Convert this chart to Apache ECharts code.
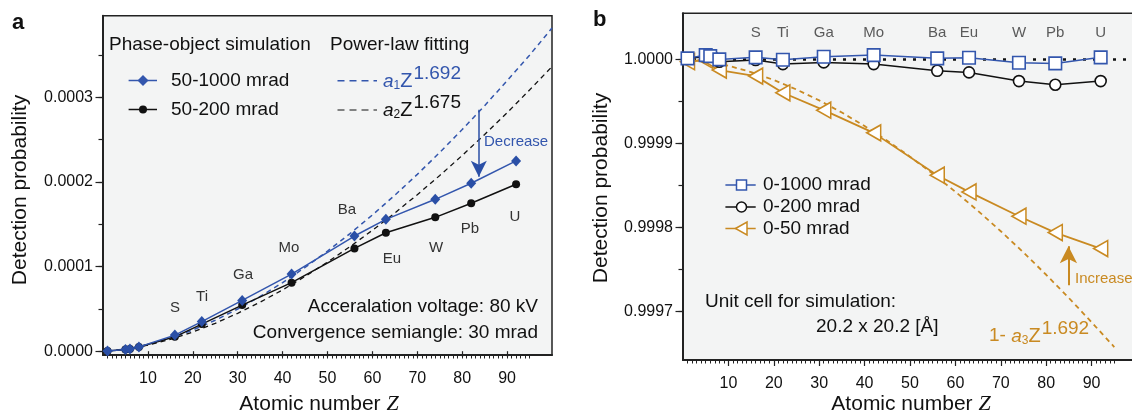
<!DOCTYPE html>
<html><head><meta charset="utf-8">
<script src="https://cdn.jsdelivr.net/npm/echarts@6/dist/echarts.min.js"></script>
<style>html,body{margin:0;padding:0;background:#fff}#c{width:1132px;height:414px}</style>
</head><body><div id="c"></div>
<script>
// ---------- data ----------
const zSim = [1, 5, 6, 8, 16, 22, 31, 42, 56, 63, 74, 82, 92];
// panel a: phase-object simulation
const p50to1000 = [0.0000001, 0.0000020, 0.0000027, 0.0000050, 0.0000190, 0.0000350, 0.0000600, 0.0000911, 0.0001361, 0.0001558, 0.0001795, 0.0001985, 0.0002249];
const p50to200  = [0.0000001, 0.0000020, 0.0000027, 0.0000050, 0.0000170, 0.0000320, 0.0000545, 0.0000810, 0.0001215, 0.0001400, 0.0001582, 0.0001748, 0.0001973];
// panel a: power-law fitting curves
const zFit = [1, 5, 10, 15, 20, 25, 30, 35, 40, 45, 50, 55, 60, 65, 70, 75, 80, 85, 90, 95, 100];
const fitA1 = [0.00000016, 0.0000024, 0.00000776, 0.00001542, 0.00002509, 0.00003659, 0.00004985, 0.00006467, 0.00008108, 0.00009896, 0.00011827, 0.00013894, 0.000161, 0.00018436, 0.00020899, 0.00023487, 0.00026195, 0.0002902, 0.0003197, 0.0003498, 0.0003819];
const fitA2 = [0.00000015, 0.00000223, 0.00000711, 0.00001401, 0.0000227, 0.00003298, 0.00004479, 0.00005795, 0.00007247, 0.0000883, 0.00010537, 0.00012351, 0.00014288, 0.00016339, 0.00018499, 0.00020765, 0.00023135, 0.0002561, 0.0002818, 0.0003087, 0.0003363];
// panel b
const p0to1000 = [1.0000012, 1.0000051, 1.0000039, 1.0000000, 1.0000024, 0.9999995, 1.0000031, 1.0000051, 1.0000012, 1.0000020, 0.9999960, 0.9999952, 1.0000024];
const p0to200  = [1.0000012, 1.0000031, 1.0000051, 0.9999972, 0.9999992, 0.9999944, 0.9999964, 0.9999944, 0.9999864, 0.9999845, 0.9999742, 0.9999698, 0.9999742];
const p0to50   = [0.9999972, 0.9999990, 0.9999980, 0.9999873, 0.9999801, 0.9999603, 0.9999396, 0.9999126, 0.9998623, 0.9998424, 0.9998135, 0.9997940, 0.9997750];
const zFit3 = [1, 5, 10, 15, 20, 25, 30, 35, 40, 45, 50, 55, 60, 65, 70, 75, 80, 85, 90, 95];
const fitA3 = [0.99999985, 0.99999765, 0.99999241, 0.99998493, 0.99997547, 0.99996422, 0.99995126, 0.99993677, 0.99992072, 0.99990324, 0.99988435, 0.99986414, 0.99984257, 0.99981973, 0.99979564, 0.99977034, 0.99974386, 0.99971624, 0.9996874, 0.9996579];
const refZ = [0, 100];
const refP = [1.0, 1.0];
// element labels
const elemNames = ['S', 'Ti', 'Ga', 'Mo', 'Ba', 'Eu', 'W', 'Pb', 'U'];
const elemZ = [16, 22, 31, 42, 56, 63, 74, 82, 92];
// tick labels
const xLabelVals = [10, 20, 30, 40, 50, 60, 70, 80, 90];
const yLabelsA = [0, 0.0001, 0.0002, 0.0003];
const yLabelsB = [0.9997, 0.9998, 0.9999, 1.0];
// arrows (annotation endpoints in data units)
const decreaseArrow = { z: 83.7, from: 0.0002852, to: 0.0002063 };
const increaseArrow = { z: 84.9, from: 0.9997313, to: 0.9997777 };

// ---------- styling ----------
const FONT = '"Liberation Sans", Arial, sans-serif';
const BLUE = '#3356ad', BLACK = '#111111', ORANGE = '#c98a22', AXIS = '#222222', BG = '#f3f4f4';
const pair = (xs, ys) => xs.map((x, i) => [x, ys[i]]);
const xMinor = []; for (let z = 1; z <= 95; z++) xMinor.push(z);
const yMinorA = [0, 0.00005, 0.0001, 0.00015, 0.0002, 0.00025, 0.0003, 0.00035];
const yMinorB = [0.9997, 0.99975, 0.9998, 0.99985, 0.9999, 0.99995, 1.0];

function xAxes(g) {
  return [
    { type: 'value', gridIndex: g, min: 0, max: 100, position: 'bottom',
      axisLine: { show: true, onZero: false, lineStyle: { color: AXIS, width: 2 } },
      axisTick: { show: true, customValues: xMinor, length: 3.5, lineStyle: { color: AXIS, width: 1 } },
      axisLabel: { show: true, customValues: xLabelVals, margin: 16, fontSize: 16, color: BLACK, fontFamily: FONT },
      splitLine: { show: false } },
    { type: 'value', gridIndex: g, min: 0, max: 100, position: 'bottom',
      axisLine: { show: false }, axisLabel: { show: false }, splitLine: { show: false },
      axisTick: { show: true, customValues: xLabelVals, length: 6, lineStyle: { color: AXIS, width: 1.2 } } }
  ];
}
function yAxes(g, min, max, minor, labels, fmt) {
  return [
    { type: 'value', gridIndex: g, min: min, max: max, position: 'left',
      axisLine: { show: true, onZero: false, lineStyle: { color: AXIS, width: 2 } },
      axisTick: { show: true, customValues: minor, length: 4.5, lineStyle: { color: AXIS, width: 1.2 } },
      axisLabel: { show: true, customValues: labels, margin: 10, fontSize: 16, color: BLACK, fontFamily: FONT, formatter: fmt },
      splitLine: { show: false } },
    { type: 'value', gridIndex: g, min: min, max: max, position: 'left',
      axisLine: { show: false }, axisLabel: { show: false }, splitLine: { show: false },
      axisTick: { show: true, customValues: labels, length: 7.5, lineStyle: { color: AXIS, width: 1.2 } } }
  ];
}
const fmt4 = v => Number(v).toFixed(4);

// ---------- graphic helpers (legend + annotations) ----------
const mctx = document.createElement('canvas').getContext('2d');
function tw(t, size, italic, fam) { mctx.font = (italic ? 'italic ' : '') + size + 'px ' + (fam || FONT); return mctx.measureText(t).width; }
function txt(x, y, t, o) {
  o = o || {};
  return { type: 'text', x: x, y: y, rotation: o.rot || 0, z: 100,
    style: { text: t, fill: o.color || BLACK, fontSize: o.size || 19, fontFamily: o.fam || FONT,
      fontStyle: o.italic ? 'italic' : 'normal', fontWeight: o.bold ? 'bold' : 'normal',
      align: o.align || 'left', verticalAlign: 'middle', rich: o.rich } };
}
function formula(x, y, color, parts) {
  const els = [];
  parts.forEach(p => {
    els.push(txt(x, y + (p.dy || 0), p.t, { color: color, size: p.size, italic: p.italic }));
    x += tw(p.t, p.size, p.italic) + (p.gap || 0);
  });
  return els;
}
function hline(x1, x2, y, color, dash, w) {
  return { type: 'line', z: 100, shape: { x1: x1, y1: y, x2: x2, y2: y }, style: { stroke: color, lineWidth: w || 1.5, lineDash: dash || null } };
}

const graphics = [];
// panel letters
graphics.push(txt(12, 23, 'a', { size: 22, bold: true }));
graphics.push(txt(593, 20, 'b', { size: 22, bold: true }));
// axis titles
graphics.push(txt(20, 190, 'Detection probability', { size: 21, align: 'center', rot: Math.PI / 2 }));
graphics.push(txt(601, 188, 'Detection probability', { size: 21, align: 'center', rot: Math.PI / 2 }));
const zRich = { z: { fontFamily: '"Liberation Serif", "DejaVu Serif", serif', fontStyle: 'italic', fontSize: 22 } };
graphics.push(txt(319, 404, 'Atomic number {z|Z}', { size: 21, align: 'center', rich: zRich }));
graphics.push(txt(911, 404, 'Atomic number {z|Z}', { size: 21, align: 'center', rich: zRich }));
// left legend
graphics.push(txt(109, 45, 'Phase-object simulation'));
graphics.push(txt(330, 45, 'Power-law fitting'));
graphics.push(hline(128.6, 157, 80.5, BLUE, null, 1.5));
graphics.push({ type: 'polygon', z: 101, shape: { points: [[143, 75], [148.5, 80.5], [143, 86], [137.5, 80.5]] }, style: { fill: BLUE } });
graphics.push(txt(171, 80.5, '50-1000 mrad'));
graphics.push(hline(128.6, 157, 109.5, BLACK, null, 1.5));
graphics.push({ type: 'circle', z: 101, shape: { cx: 143, cy: 109.5, r: 4 }, style: { fill: BLACK } });
graphics.push(txt(171, 109.5, '50-200 mrad'));
graphics.push(hline(337.5, 377, 80.7, BLUE, [7, 5], 1.5));
graphics.push(hline(337.5, 377, 110, BLACK, [7, 5], 1.2));
formula(383, 81, BLUE, [{ t: 'a', size: 19, italic: true, dy: 1 }, { t: '1', size: 12, dy: 5 }, { t: 'Z', size: 20, gap: 1 }, { t: '1.692', size: 19, dy: -7 }]).forEach(e => graphics.push(e));
formula(383, 110, BLACK, [{ t: 'a', size: 19, italic: true, dy: 1 }, { t: '2', size: 12, dy: 5 }, { t: 'Z', size: 20, gap: 1 }, { t: '1.675', size: 19, dy: -7 }]).forEach(e => graphics.push(e));
graphics.push(txt(484, 141.7, 'Decrease', { size: 15, color: BLUE }));
// left element labels
const leftLabelPos = [[175, 308], [202, 297], [243, 275], [289, 248], [347, 210], [392, 259], [436, 248], [470, 229], [515, 217]];
elemNames.forEach((n, i) => graphics.push(txt(leftLabelPos[i][0], leftLabelPos[i][1], n, { size: 15, color: '#333', align: 'center' })));
graphics.push(txt(538, 306.5, 'Acceralation voltage: 80 kV', { align: 'right' }));
graphics.push(txt(538, 332.7, 'Convergence semiangle: 30 mrad', { align: 'right' }));
// right legend
graphics.push(hline(725.4, 755.7, 185, BLUE, null, 1.5));
graphics.push({ type: 'rect', z: 101, shape: { x: 736.5, y: 180, width: 10, height: 10 }, style: { fill: '#fff', stroke: BLUE, lineWidth: 1.5 } });
graphics.push(txt(763, 185, '0-1000 mrad'));
graphics.push(hline(725.4, 755.7, 207, BLACK, null, 1.5));
graphics.push({ type: 'circle', z: 101, shape: { cx: 741.5, cy: 207, r: 5 }, style: { fill: '#fff', stroke: BLACK, lineWidth: 1.5 } });
graphics.push(txt(763, 207, '0-200 mrad'));
graphics.push(hline(725.4, 755.7, 228.5, ORANGE, null, 1.5));
graphics.push({ type: 'polygon', z: 101, shape: { points: [[735.5, 228.5], [747, 222], [747, 235]] }, style: { fill: '#fff', stroke: ORANGE, lineWidth: 1.5 } });
graphics.push(txt(763, 228.5, '0-50 mrad'));
graphics.push(txt(705, 301.7, 'Unit cell for simulation:'));
graphics.push(txt(816, 326.7, '20.2 x 20.2 [Å]'));
graphics.push(txt(1075, 279.3, 'Increase', { size: 15, color: ORANGE }));
formula(989, 336, ORANGE, [{ t: '1- ', size: 19 }, { t: 'a', size: 19, italic: true, dy: 1 }, { t: '3', size: 12, dy: 5 }, { t: 'Z', size: 20, gap: 1 }, { t: '1.692', size: 19, dy: -7 }]).forEach(e => graphics.push(e));

// ---------- chart ----------
const chart = echarts.init(document.getElementById('c'), null, { renderer: 'canvas' });
const option = {
  animation: false,
  backgroundColor: '#ffffff',
  textStyle: { fontFamily: FONT },
  grid: [
    { left: 103, top: 15.7, width: 449, height: 339.3, show: true, backgroundColor: BG, borderColor: AXIS, borderWidth: 1.5, containLabel: false, outerBoundsMode: 'none' },
    { left: 683, top: 13.3, width: 454, height: 346.7, show: true, backgroundColor: BG, borderColor: AXIS, borderWidth: 1.5, containLabel: false, outerBoundsMode: 'none' }
  ],
  xAxis: xAxes(0).concat(xAxes(1)),
  yAxis: yAxes(0, -0.0000045, 0.0003965, yMinorA, yLabelsA, fmt4).concat(yAxes(1, 0.9996425, 1.0000548, yMinorB, yLabelsB, fmt4)),
  graphic: graphics,
  series: [
    { type: 'line', xAxisIndex: 0, yAxisIndex: 0, data: pair(zFit, fitA1), showSymbol: false, smooth: false,
      lineStyle: { color: BLUE, width: 1.5, type: [5, 4] }, z: 2 },
    { type: 'line', xAxisIndex: 0, yAxisIndex: 0, data: pair(zFit, fitA2), showSymbol: false,
      lineStyle: { color: BLACK, width: 1.3, type: [5, 4] }, z: 2 },
    { type: 'line', xAxisIndex: 0, yAxisIndex: 0, data: pair(zSim, p50to200), symbol: 'circle', symbolSize: 8,
      itemStyle: { color: BLACK }, lineStyle: { color: BLACK, width: 1.5 }, z: 3 },
    { type: 'line', xAxisIndex: 0, yAxisIndex: 0, data: pair(zSim, p50to1000), symbol: 'diamond', symbolSize: [10, 11],
      itemStyle: { color: '#2a4fa6' }, lineStyle: { color: BLUE, width: 1.5 }, z: 4,
      markLine: { silent: true, symbol: ['none', 'arrow'], symbolSize: [12, 16], label: { show: false },
        lineStyle: { color: '#2a4fa6', width: 1.5, type: 'solid' },
        data: [[{ coord: [decreaseArrow.z, decreaseArrow.from] }, { coord: [decreaseArrow.z, decreaseArrow.to] }]] } },

    { type: 'line', xAxisIndex: 2, yAxisIndex: 2, data: pair(refZ, refP), showSymbol: false,
      lineStyle: { color: BLACK, width: 2.5, type: [3, 7] }, z: 2 },
    { type: 'line', xAxisIndex: 2, yAxisIndex: 2, data: pair(zFit3, fitA3), showSymbol: false,
      lineStyle: { color: ORANGE, width: 1.8, type: [5, 4] }, z: 2 },
    { type: 'line', xAxisIndex: 2, yAxisIndex: 2, data: pair(zSim, p0to50), symbol: 'triangle', symbolRotate: 90, symbolSize: [16, 14],
      itemStyle: { color: '#ffffff', borderColor: ORANGE, borderWidth: 1.6 }, lineStyle: { color: ORANGE, width: 1.8 }, z: 3,
      markLine: { silent: true, symbol: ['none', 'arrow'], symbolSize: [13, 17], label: { show: false },
        lineStyle: { color: ORANGE, width: 2, type: 'solid' },
        data: [[{ coord: [increaseArrow.z, increaseArrow.from] }, { coord: [increaseArrow.z, increaseArrow.to] }]] } },
    { type: 'line', xAxisIndex: 2, yAxisIndex: 2, data: pair(zSim, p0to200), symbol: 'circle', symbolSize: 11,
      itemStyle: { color: '#ffffff', borderColor: BLACK, borderWidth: 1.6 }, lineStyle: { color: BLACK, width: 1.5 }, z: 4 },
    { type: 'line', xAxisIndex: 2, yAxisIndex: 2, data: pair(zSim, p0to1000), symbol: 'rect', symbolSize: 12.5,
      itemStyle: { color: '#ffffff', borderColor: BLUE, borderWidth: 1.6 }, lineStyle: { color: BLUE, width: 1.5 }, z: 5 },
    { type: 'scatter', xAxisIndex: 2, yAxisIndex: 2, symbolSize: 0, silent: true, z: 6,
      data: elemZ.map((z, i) => ({ value: [z, 1.0000319], name: elemNames[i] })),
      label: { show: true, position: 'inside', formatter: p => p.name, fontSize: 15, color: '#333', fontFamily: FONT } }
  ]
};
chart.setOption(option);
</script>
</body></html>
